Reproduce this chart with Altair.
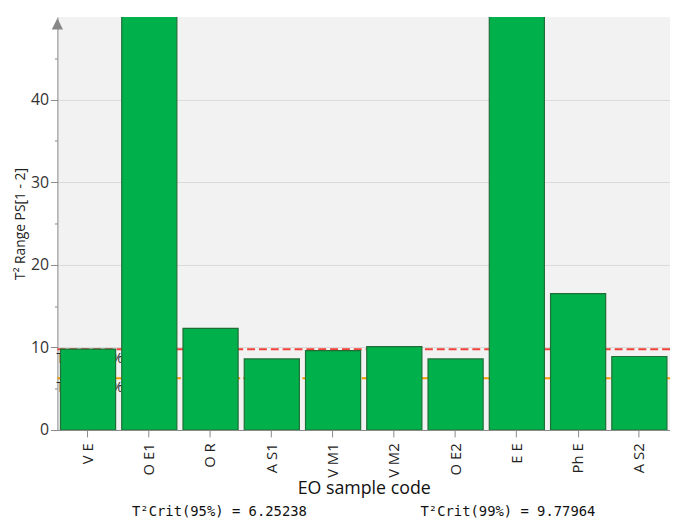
import altair as alt
import pandas as pd

samples = ["V E", "O E1", "O R", "A S1", "V M1", "V M2", "O E2", "E E", "Ph E", "A S2"]
t2_values = [9.8, 60.0, 12.3, 8.6, 9.6, 10.1, 8.6, 60.0, 16.5, 8.9]
crit95 = 6.25238
crit99 = 9.77964
y_max = 50

df = pd.DataFrame({"sample": samples, "t2": t2_values})

W, H = 620, 418
FONT = "Open Sans"

xenc = alt.X("sample:N", sort=samples, title="EO sample code",
             scale=alt.Scale(paddingInner=0.1, paddingOuter=0.05),
             axis=alt.Axis(labelAngle=-90, labelFontSize=15, labelColor="#222",
                           labelFont=FONT, titleFont=FONT, titleFontSize=18,
                           titleFontWeight="normal", titleColor="#111", titlePadding=2,
                           domainColor="#888", tickColor="#888", tickSize=7,
                           labelPadding=6, grid=False, labelBaseline="middle"))

yscale = alt.Scale(domain=[0, y_max], nice=False)
yenc = alt.Y("t2:Q", scale=yscale, title="T² Range PS[1 - 2]",
             axis=alt.Axis(values=[0, 5, 10, 15, 20, 25, 30, 35, 40, 45],
                           labelExpr="datum.value % 10 == 0 ? datum.label : ''",
                           tickSize={"condition": {"test": "datum.value % 10 == 0", "value": 7}, "value": 3},
                           gridOpacity={"condition": {"test": "datum.value % 10 == 0 && datum.value > 0", "value": 1}, "value": 0},
                           gridColor="#d9d9d9", domainColor="#888", tickColor="#888",
                           labelFontSize=16, labelColor="#333", labelFont=FONT,
                           titleFont=FONT, titleFontSize=14, titleFontWeight="normal",
                           titleColor="#222", titlePadding=3))

base = alt.Chart(df)

bars = base.mark_bar(color="#00b04a", stroke="#1f6e37", strokeWidth=1.2, clip=True).encode(
    x=xenc, y=yenc
)

rule_df = pd.DataFrame({"v": [crit99, crit95], "lab": ["T²Crit(99%)", "T²Crit(95%)"]})
red_rule = alt.Chart(rule_df.iloc[[0]]).mark_rule(color="#f0413a", strokeWidth=2, strokeDash=[8, 4]).encode(
    y=alt.Y("v:Q", scale=yscale)
)
orange_rule = alt.Chart(rule_df.iloc[[1]]).mark_rule(color="#f29d00", strokeWidth=2, strokeDash=[12, 3]).encode(
    y=alt.Y("v:Q", scale=yscale)
)
rule_text = alt.Chart(rule_df).mark_text(align="left", baseline="top", dx=-1, dy=3,
                                         fontSize=14, font=FONT, color="#222").encode(
    x=alt.value(0), y=alt.Y("v:Q", scale=yscale), text="lab:N"
)

arrow = alt.Chart(pd.DataFrame({"a": [1]})).mark_point(
    shape="M-1,1L0,-1L1,1Z", size=130, filled=True, color="#888", opacity=1
).encode(x=alt.value(0), y=alt.value(7))

crit_df = pd.DataFrame({
    "txt": [f"T²Crit(95%) = {crit95}", f"T²Crit(99%) = {crit99}"],
    "px": [164, 456],
})
crit_text = alt.Chart(crit_df).mark_text(font="DejaVu Sans Mono", fontSize=14, color="#111",
                                         baseline="middle", align="center").encode(
    x=alt.X("px:Q", scale=None), y=alt.value(501), text="txt:N"
)

chart = alt.layer(rule_text, red_rule, orange_rule, bars, arrow, crit_text).properties(
    width=W, height=H,
    autosize=alt.AutoSizeParams(type="none"),
    padding={"left": 50, "top": 6, "right": 0, "bottom": 88},
).configure_view(fill="#f2f2f2", stroke=None)

chart.save("out.html", embed_options={"renderer": "svg", "actions": False})
